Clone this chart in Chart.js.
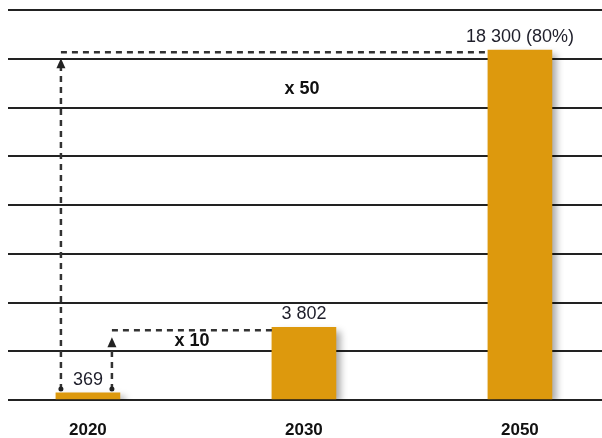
<!DOCTYPE html>
<html>
<head>
<meta charset="utf-8">
<script src="https://cdn.jsdelivr.net/npm/chart.js@4/dist/chart.umd.min.js"></script>
<style>
  html, body { margin: 0; padding: 0; background: #fff; }
  #wrap { width: 602px; height: 438px; position: relative; }
</style>
</head>
<body>
<div id="wrap"><canvas id="growthChart"></canvas></div>
<script>
// Years and installed values
const categories = ['2020', '2030', '2050'];
const values = [369, 3802, 18300];
const valueLabels = ['369', '3 802', '18 300 (80%)'];
const growthLabels = ['x 10', 'x 50'];

// Grid: 8 bands up to the top line
const gridMax = 20400;
const gridStep = 2550;

const barColor = '#dd990d';
const lineColor = '#222';

function dashedLine(ctx, x1, y1, x2, y2) {
    ctx.beginPath();
    ctx.moveTo(x1, y1);
    ctx.lineTo(x2, y2);
    ctx.stroke();
}

function arrowUp(ctx, x, y) {
    ctx.beginPath();
    ctx.moveTo(x, y);
    ctx.lineTo(x - 4.5, y + 10);
    ctx.lineTo(x + 4.5, y + 10);
    ctx.closePath();
    ctx.fill();
}

function dot(ctx, x, y) {
    ctx.beginPath();
    ctx.arc(x, y, 2.5, 0, Math.PI * 2);
    ctx.fill();
}

// Soft shadow behind the bars
const barShadow = {
    id: 'barShadow',
    beforeDatasetsDraw(chart) {
        const ctx = chart.ctx;
        ctx.save();
        ctx.shadowColor = 'rgba(0, 0, 0, 0.35)';
        ctx.shadowBlur = 7;
        ctx.shadowOffsetX = 5;
        ctx.shadowOffsetY = 4;
    },
    afterDatasetsDraw(chart) {
        chart.ctx.restore();
    }
};

// Value labels, dashed growth arrows and multipliers
const growthArrows = {
    id: 'growthArrows',
    afterDatasetsDraw(chart) {
        const ctx = chart.ctx;
        const y = chart.scales.y;
        const bars = chart.getDatasetMeta(0).data;
        const base = y.getPixelForValue(0);
        const b0 = bars[0], b1 = bars[1], b2 = bars[2];
        const left0 = b0.x - b0.width / 2;
        const right0 = b0.x + b0.width / 2;

        ctx.save();
        ctx.fillStyle = '#1e1e2a';
        ctx.font = '18px "Liberation Sans", Arial, sans-serif';
        ctx.textAlign = 'center';
        ctx.textBaseline = 'bottom';
        bars.forEach((bar, i) => {
            ctx.fillText(valueLabels[i], bar.x, bar.y - 4);
        });

        ctx.strokeStyle = '#333';
        ctx.fillStyle = '#222';
        ctx.lineWidth = 2.5;
        ctx.setLineDash([6, 5]);

        // x 50 : 2020 up to the 2050 level
        const xa = left0 + 5;
        const ya = b2.y + 2;
        dashedLine(ctx, xa, base - 10, xa, ya + 14);
        dashedLine(ctx, xa, ya, b2.x - b2.width / 2, ya);
        // x 10 : 2020 up to the 2030 level
        const xb = right0 - 8;
        const yb = b1.y + 3;
        dashedLine(ctx, xb, base - 10, xb, yb + 16);
        dashedLine(ctx, xb, yb, b1.x - b1.width / 2, yb);

        ctx.setLineDash([]);
        arrowUp(ctx, xa, ya + 6);
        arrowUp(ctx, xb, yb + 7);
        dot(ctx, xa, base - 11);
        dot(ctx, xb, base - 11);

        ctx.fillStyle = '#111';
        ctx.font = 'bold 18px "Liberation Sans", Arial, sans-serif';
        ctx.textBaseline = 'middle';
        ctx.fillText(growthLabels[1], b1.x - 2, ya + 37);
        ctx.fillText(growthLabels[0], (xb + b1.x - b1.width / 2) / 2, y.getPixelForValue(gridStep) - 10);
        ctx.restore();
    }
};

const ctx = document.getElementById('growthChart').getContext('2d');
const growthChart = new Chart(ctx, {
    type: 'bar',
    data: {
        datasets: [{
            data: values.map((v, i) => ({ x: i, y: v })),
            backgroundColor: barColor,
            borderWidth: 0,
            barThickness: 64
        }]
    },
    options: {
        responsive: true,
        maintainAspectRatio: false,
        animation: false,
        layout: {
            padding: { left: 8, top: 10, right: 0, bottom: 0 }
        },
        plugins: {
            legend: { display: false },
            tooltip: { enabled: false }
        },
        scales: {
            x: {
                type: 'linear',
                offset: false,
                min: -0.37,
                max: 2.38,
                afterBuildTicks: function(scale) {
                    scale.ticks = categories.map((c, i) => ({ value: i }));
                },
                afterFit: function(scale) {
                    scale.height = 38;
                },
                grid: { display: false, offset: false, drawTicks: false },
                border: { display: false },
                ticks: {
                    autoSkip: false,
                    maxRotation: 0,
                    padding: 20,
                    color: '#111',
                    font: { family: '"Liberation Sans", Arial, sans-serif', size: 17, weight: 'bold' },
                    callback: function(value) {
                        return categories[value];
                    }
                }
            },
            y: {
                min: 0,
                max: gridMax,
                ticks: { display: false, stepSize: gridStep },
                grid: { color: lineColor, lineWidth: 2, drawTicks: false },
                border: { display: false }
            }
        }
    },
    plugins: [barShadow, growthArrows]
});
</script>
</body>
</html>
